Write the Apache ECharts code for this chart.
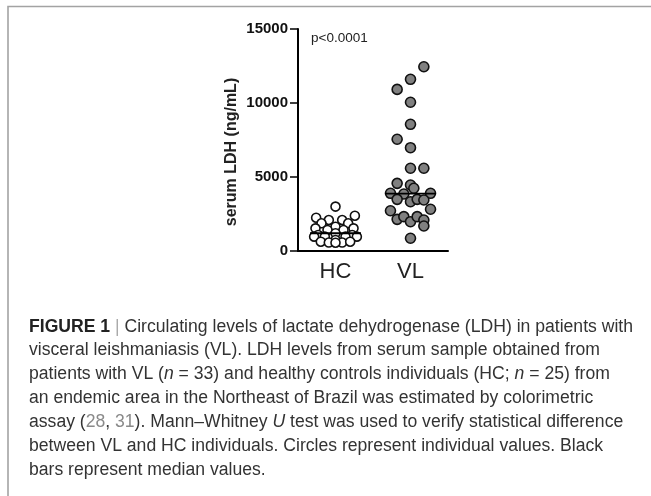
<!DOCTYPE html>
<html>
<head>
<meta charset="utf-8">
<script src="https://cdn.jsdelivr.net/npm/echarts@6/dist/echarts.min.js"></script>
<style>
html,body{margin:0;padding:0;background:#fff;}
#chart{width:651px;height:496px;}
</style>
</head>
<body>
<div id="chart"></div>
<script>
// ---- data ----
var categories = ['HC', 'VL'];
var yTicks = [0, 5000, 10000, 15000];
// serum LDH (ng/mL) of each visible circle
var hcValues = [3000, 2250, 2385, 2095, 2095, 1870, 1870, 1640, 1530, 1530, 1420, 1420, 1200,
                1080, 1080, 970, 970, 970, 970, 745, 630, 570, 570, 630, 560];
// horizontal scatter slot of each circle (in half-dot steps from the column centre)
var hcSlots = [0, -2.9, 2.9, -1, 1, 1.9, -2.1, 0, -3, 2.7, -1.2, 1.2, 0,
               -2.6, 2.5, -1.6, 1.5, -3.2, 3.2, 0, -2.2, -1, 1, 2.2, 0];
var vlValues = [12450, 11600, 10920, 10050, 8560, 7550, 6980, 5590, 5590, 4570, 4460, 4240,
                3900, 3850, 3900, 3490, 3330, 3490, 3445, 2720, 2820, 2140, 2320, 1980,
                2320, 2095, 1690, 860];
var vlSlots = [2, 0, -2, 0, 0, -2, 0, 0, 2, -2, 0, 0.5,
               -3, -1, 3, -2, 0, 1, 2, -3, 3, -2, -1, 0,
               1, 2, 2, 0];
var pText = 'p<0.0001';
var captionLines = [
  '{b|FIGURE 1} {bar||} Circulating levels of lactate dehydrogenase (LDH) in patients with',
  'visceral leishmaniasis (VL). LDH levels from serum sample obtained from',
  'patients with VL ({i|n} = 33) and healthy controls individuals (HC; {i|n} = 25) from',
  'an endemic area in the Northeast of Brazil was estimated by colorimetric',
  'assay ({g|28}, {g|31}). Mann\u2013Whitney {i|U} test was used to verify statistical difference',
  'between VL and HC individuals. Circles represent individual values. Black',
  'bars represent median values.'
];

// ---- build ----
var SLOT = 0.089;     // value-axis units per half-dot step
var HALF = 0.34;      // half width of the median bar
function pts(vals, slots, centre) {
  return vals.map(function (v, i) { return [centre + slots[i] * SLOT, v]; });
}
function median(a) {
  var s = a.slice().sort(function (x, y) { return x - y; });
  var n = s.length;
  return n % 2 ? s[(n - 1) / 2] : (s[n / 2 - 1] + s[n / 2]) / 2;
}
var hcMed = median(hcValues), vlMed = median(vlValues);

var chart = echarts.init(document.getElementById('chart'), null, {renderer: 'canvas'});
var font = 'Liberation Sans, Arial, sans-serif';
var capSize = 17.6;

var graphics = [
  {type: 'polyline', silent: true,
   shape: {points: [[8, 496], [8, 6.5], [651, 6.5]]},
   style: {stroke: '#a3a3a3', lineWidth: 1.6, fill: null}},
  {type: 'text', left: 311, top: 31,
   style: {text: pText, font: '13.5px ' + font, fill: '#222'}}
];
var capTop = [318, 341.5, 365.5, 389.5, 413.5, 437.5, 461];
captionLines.forEach(function (t, i) {
  graphics.push({
    type: 'text', left: 29, top: capTop[i],
    style: {
      text: t, fill: '#333', font: capSize + 'px ' + font,
      rich: {
        b: {fontWeight: 'bold', fontSize: capSize, fontFamily: font, fill: '#222'},
        bar: {fontSize: capSize, fontFamily: font, fill: '#aaa'},
        i: {fontStyle: 'italic', fontSize: capSize, fontFamily: font, fill: '#333'},
        g: {fontSize: capSize, fontFamily: font, fill: '#8a8a8a'}
      }
    }
  });
});

chart.setOption({
  animation: false,
  backgroundColor: '#fff',
  grid: {left: 298, top: 29, width: 150, height: 222, containLabel: false},
  xAxis: [
    {type: 'category', data: categories, boundaryGap: true,
     axisLine: {lineStyle: {color: '#000', width: 2}},
     axisTick: {alignWithLabel: true, length: 5, lineStyle: {color: '#000', width: 1.5}},
     axisLabel: {color: '#222', fontSize: 22, fontFamily: font, margin: 10},
     splitLine: {show: false}},
    {type: 'value', min: 0, max: 2, show: false, splitLine: {show: false}}
  ],
  yAxis: {
    type: 'value', min: 0, max: 15000, interval: 5000,
    name: 'serum LDH (ng/mL)', nameLocation: 'middle', nameGap: 58,
    nameTextStyle: {color: '#222', fontSize: 16, fontWeight: 'bold', fontFamily: font, padding: [0, 24, 0, 0]},
    axisLine: {show: true, lineStyle: {color: '#000', width: 2}},
    axisTick: {show: true, length: 8, lineStyle: {color: '#000', width: 1.5}},
    axisLabel: {color: '#111', fontSize: 15, fontWeight: 'bold', fontFamily: font, margin: 10,
                formatter: function (v) { return yTicks.indexOf(v) >= 0 ? String(v) : ''; }},
    splitLine: {show: false}
  },
  graphic: graphics,
  series: [
    {type: 'scatter', xAxisIndex: 1, data: pts(hcValues, hcSlots, 0.5), symbolSize: 9,
     itemStyle: {color: '#fff', borderColor: '#111', borderWidth: 1.6, opacity: 1}, z: 3},
    {type: 'scatter', xAxisIndex: 1, data: pts(vlValues, vlSlots, 1.5), symbolSize: 10,
     itemStyle: {color: '#808080', borderColor: '#111', borderWidth: 1.6, opacity: 1}, z: 3},
    {type: 'line', xAxisIndex: 1, data: [[0.5 - HALF, hcMed], [0.5 + HALF, hcMed]],
     symbol: 'none', lineStyle: {color: '#000', width: 1.8}, z: 4},
    {type: 'line', xAxisIndex: 1, data: [[1.5 - HALF, vlMed], [1.5 + HALF, vlMed]],
     symbol: 'none', lineStyle: {color: '#000', width: 1.8}, z: 4}
  ]
});
</script>
</body>
</html>
